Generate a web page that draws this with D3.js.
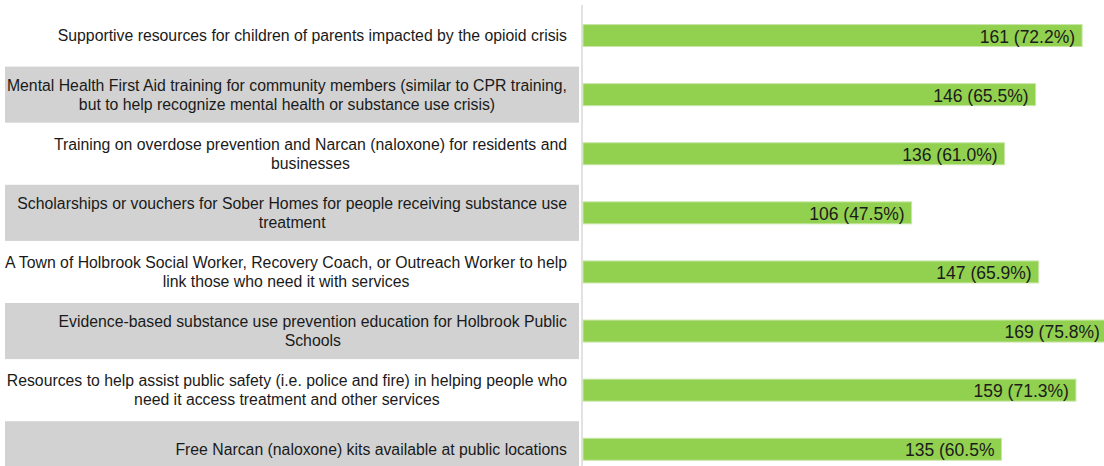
<!DOCTYPE html>
<html lang="en">
<head>
    <meta charset="UTF-8">
    <script src="https://cdn.jsdelivr.net/npm/d3@7"></script>
    <title>Holbrook priorities</title>
    <style>
        body { margin: 0; background: white; }
        svg { display: block; }
        .cat { font-family: 'Liberation Sans', Arial, sans-serif; font-size: 15.8px; fill: #1a1a1a; }
        .val { font-family: 'Liberation Sans', Arial, sans-serif; font-size: 17.5px; fill: #1a1a1a; }
    </style>
</head>
<body>
    <div id="chart"></div>
    <script>
        const categories = [
            ["Supportive resources for children of parents impacted by the opioid crisis"],
            ["Mental Health First Aid training for community members (similar to CPR training,", "but to help recognize mental health or substance use crisis)"],
            ["Training on overdose prevention and Narcan (naloxone) for residents and", "businesses"],
            ["Scholarships or vouchers for Sober Homes for people receiving substance use", "treatment"],
            ["A Town of Holbrook Social Worker, Recovery Coach, or Outreach Worker to help", "link those who need it with services"],
            ["Evidence-based substance use prevention education for Holbrook Public", "Schools"],
            ["Resources to help assist public safety (i.e. police and fire) in helping people who", "need it access treatment and other services"],
            ["Free Narcan (naloxone) kits available at public locations"]
        ];
        const counts = [161, 146, 136, 106, 147, 169, 159, 135];
        const valueLabels = ["161 (72.2%)", "146 (65.5%)", "136 (61.0%)", "106 (47.5%)",
            "147 (65.9%)", "169 (75.8%)", "159 (71.3%)", "135 (60.5%"];

        const width = 1104, height = 466;
        const axisX = 582;
        const labelRight = 567;

        const svg = d3.select("#chart").append("svg")
            .attr("width", width)
            .attr("height", height);

        const idx = d3.range(counts.length);
        const y = d3.scaleBand().domain(idx).range([6, 6 + 8 * 59.1]).padding(0);
        const x = d3.scaleLinear().domain([0, 170]).range([axisX + 1, axisX + 1 + 170 * 3.1]);

        // alternating gray label boxes
        svg.selectAll("rect.band")
            .data(idx.filter(i => i % 2 === 1))
            .enter()
            .append("rect")
            .attr("class", "band")
            .attr("x", 5)
            .attr("width", 574)
            .attr("y", i => y(i) + 1.5)
            .attr("height", y.bandwidth() - 3)
            .attr("fill", "#d2d2d2");

        // category labels: block right aligned, lines centred within block
        const lineH = 19;
        idx.forEach(i => {
            const lines = categories[i];
            const g = svg.append("g");
            const texts = lines.map((l, j) => g.append("text")
                .attr("class", "cat")
                .attr("y", y(i) + y.bandwidth() / 2 + (j - (lines.length - 1) / 2) * lineH)
                .attr("dy", "0.35em")
                .attr("text-anchor", "middle")
                .text(l));
            const maxW = d3.max(texts, t => t.node().getComputedTextLength());
            texts.forEach(t => t.attr("x", labelRight - maxW / 2));
        });

        // axis line
        svg.append("line")
            .attr("x1", axisX).attr("x2", axisX)
            .attr("y1", 5).attr("y2", height)
            .attr("stroke", "#d9d9d9")
            .attr("stroke-width", 1.5);

        const barH = 22;
        svg.selectAll("rect.bar")
            .data(idx)
            .enter()
            .append("rect")
            .attr("class", "bar")
            .attr("x", x(0))
            .attr("y", i => y(i) + y.bandwidth() / 2 - barH / 2)
            .attr("width", i => x(counts[i]) - x(0))
            .attr("height", barH)
            .attr("fill", "#92d050")
            .attr("stroke", "#c8e6a8")
            .attr("stroke-width", 1);

        svg.selectAll("text.val")
            .data(idx)
            .enter()
            .append("text")
            .attr("class", "val")
            .attr("x", i => x(counts[i]) - 7)
            .attr("y", i => y(i) + y.bandwidth() / 2 + 1)
            .attr("dy", "0.35em")
            .attr("text-anchor", "end")
            .text(i => valueLabels[i]);
    </script>
</body>
</html>
